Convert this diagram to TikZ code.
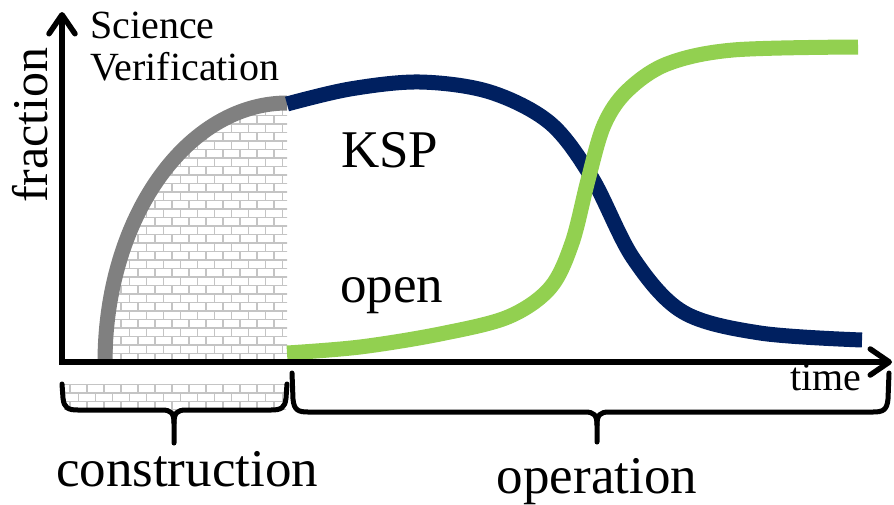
\documentclass[tikz,border=0pt]{standalone}
\usepackage{fontspec}
\setmainfont{Liberation Serif}
\usetikzlibrary{arrows.meta}
\definecolor{ksp}{HTML}{002060}
\definecolor{opencol}{HTML}{92D050}
\definecolor{svgray}{HTML}{808080}
\definecolor{mortarcol}{HTML}{C4C4C4}
\tikzset{
  axisline/.style={line width=5.5pt, line join=miter,
    {Straight Barb[length=19pt,width=26pt,round]}-{Straight Barb[length=19pt,width=26pt,round]}},
  phase/.style={line width=15pt, line cap=butt},
  bracestyle/.style={line width=5pt, line cap=round, line join=round},
  mortar/.style={draw=mortarcol, line width=1.4pt},
  big/.style={inner sep=0pt, font=\fontsize{53}{60}\selectfont},
  mid/.style={inner sep=0pt, font=\fontsize{40}{46}\selectfont},
  ylab/.style={inner sep=0pt, font=\fontsize{50}{56}\selectfont}
}
\begin{document}
\begin{tikzpicture}[x=1pt, y=-1pt]
\useasboundingbox (0,0) rectangle (894,504);

% brick texture under the construction ramp
\begin{scope}
  \clip plot[domain=180:270, samples=80] ({287+182*cos(\x)},{362+259*sin(\x)}) -- (287,362) -- cycle;
  \foreach \j in {0,...,31} {
    \pgfmathsetmacro\yy{362-\j*8.5}
    \pgfmathsetmacro\off{mod(\j,2)*8.5}
    \draw[mortar] (60,\yy) -- (292,\yy);
    \foreach \k in {0,...,14} {
      \draw[mortar] ({53+\off+\k*17},\yy) -- ++(0,-8.5);
    }
  }
\end{scope}

% brick texture inside the construction brace
\begin{scope}
  \clip (64,384) rectangle (286,409);
  \foreach \j in {0,...,3} {
    \pgfmathsetmacro\yy{410-\j*8.5}
    \pgfmathsetmacro\off{mod(\j,2)*8.5}
    \draw[mortar] (60,\yy) -- (292,\yy);
    \foreach \k in {0,...,14} {
      \draw[mortar] ({53+\off+\k*17},\yy) -- ++(0,-8.5);
    }
  }
\end{scope}

% time label sits under the axis line
\node[mid, anchor=base west] (timelab) at (790,390) {time};

% science verification ramp
\draw[phase, svgray] plot[domain=180:270, samples=80] ({287+182*cos(\x)},{362+259*sin(\x)});

% KSP fraction
\draw[phase, ksp] plot[smooth, tension=0.55] coordinates {
  (287,104) (350,89) (420,82) (490,92) (550,123) (592,178) (633,258) (683,312) (760,333) (862,340)};

% open-time fraction
\draw[phase, opencol] plot[smooth, tension=0.55] coordinates {
  (287,353) (360,347) (440,334) (508,317) (550,288) (572,243) (588,180) (604,125) (627,91) (667,64) (733,50) (858,47)};

% axes
\coordinate (ytip) at (62,12);
\coordinate (origin) at (62,362);
\coordinate (xtip) at (892,362);
\draw[axisline] (ytip) -- (origin) -- (xtip);

% labels
\node[ylab, rotate=90, anchor=base] (fraclab) at (47,125) {fraction};
\node[mid, anchor=base west] (sci) at (90,38) {Science};
\node[mid, anchor=base west] (ver) at (90,80) {Verification};
\node[big, anchor=base west] (ksplab) at (341,167) {KSP};
\node[big, anchor=base west] (openlab) at (340,302) {open};

% construction brace
\coordinate (cL) at (62,384);
\coordinate (cR) at (287,384);
\coordinate (cT) at (174,443);
\draw[bracestyle] (cL) -- (63,398) .. controls (64,408) and (68,410) .. (78,410)
  -- (162,410) .. controls (171,410) and (174,413) .. (174,423) -- (cT);
\draw[bracestyle] (cR) -- (286,398) .. controls (285,408) and (281,410) .. (271,410)
  -- (186,410) .. controls (177,410) and (174,413) .. (174,423);

% operation brace
\coordinate (oL) at (292,373);
\coordinate (oR) at (889,373);
\coordinate (oT) at (597,442);
\draw[bracestyle] (oL) -- (293,399) .. controls (294,410) and (298,412) .. (308,412)
  -- (585,412) .. controls (594,412) and (597,415) .. (597,425) -- (oT);
\draw[bracestyle] (oR) -- (888,399) .. controls (887,410) and (883,412) .. (873,412)
  -- (609,412) .. controls (600,412) and (597,415) .. (597,425);

\node[big, anchor=base] (conlab) at (187,486) {construction};
\node[big, anchor=base] (oplab) at (597,493) {operation};
\end{tikzpicture}
\end{document}
